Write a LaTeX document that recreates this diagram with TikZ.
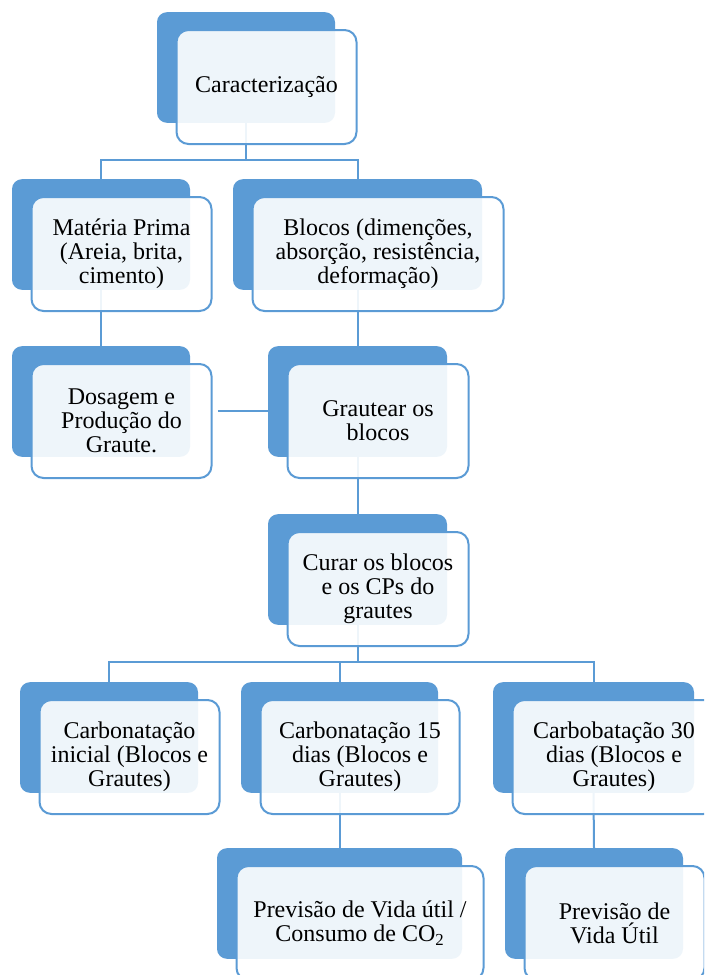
\documentclass[tikz,border=0pt]{standalone}
\usepackage{fontspec}
\setmainfont{Liberation Serif}
\usepackage{xcolor}
\usepackage{tikz}
\usetikzlibrary{positioning,calc}
\definecolor{stageblue}{RGB}{91,155,213}
\tikzset{
    stage back/.style={rectangle, rounded corners=7.5pt, fill=stageblue, minimum width=#1*0.75pt, minimum height=83pt, inner sep=0pt},
    stage front/.style={rectangle, rounded corners=9pt, draw=stageblue, line width=1.5pt, fill=white, fill opacity=0.9, text opacity=1, minimum width=(#1+2)*0.75pt, minimum height=85.5pt, inner sep=0pt, align=center, font=\fontsize{18}{18}\selectfont},
    link/.style={draw=stageblue, line width=1.5pt}
}

\begin{document}
\begin{tikzpicture}[x=0.75pt, y=-0.75pt]
    \useasboundingbox (0,0) rectangle (704,975);
    \clip (0,0) rectangle (704,975);

    % Back boxes - one per stage
    \node[stage back=178] (car-b) at (246,67.5) {};
    \node[stage back=178] (mat-b) at (101,234.5) {};
    \node[stage back=249] (blo-b) at (357.5,234.5) {};
    \node[stage back=178] (dos-b) at (101,401.5) {};
    \node[stage back=179] (gra-b) at (357.5,401.5) {};
    \node[stage back=179] (cur-b) at (357.5,569.5) {};
    \node[stage back=178] (ci-b) at (109,737.5) {};
    \node[stage back=197] (c15-b) at (339.5,737.5) {};
    \node[stage back=201] (c30-b) at (593.5,737.5) {};
    \node[stage back=245] (pco-b) at (339.5,903.5) {};
    \node[stage back=178] (pvu-b) at (594,903.5) {};

    % Connections - drawn under the front boxes
    \draw[link] (car-b.south) -- ++(0,37) -| (mat-b.north);
    \draw[link] (car-b.south) -- ++(0,37) -| (blo-b.north);
    \draw[link] (mat-b.south) -- (dos-b.north);
    \draw[link] (blo-b.south) -- (gra-b.north);
    \draw[link] (gra-b.south) -- (cur-b.north);
    \draw[link] (cur-b.south) -- ++(0,37) -| (ci-b.north);
    \draw[link] (cur-b.south) -- ++(0,37) -| (c15-b.north);
    \draw[link] (cur-b.south) -- ++(0,37) -| (c30-b.north);
    \draw[link] (c15-b.south) -- (pco-b.north);
    \draw[link] (c30-b.south) -- (pvu-b.north);

    % Front boxes with the texts
    \node[stage front=178] (car) at ($(car-b)+(20.5,19.5)$) {Caracterização};
    \node[stage front=178] (mat) at ($(mat-b)+(20.5,19.5)$) {Matéria Prima\\(Areia, brita,\\cimento)};
    \node[stage front=249] (blo) at ($(blo-b)+(20.5,19.5)$) {Blocos (dimenções,\\absorção, resistência,\\deformação)};
    \node[stage front=178] (dos) at ($(dos-b)+(20.5,19.5)$) {Dosagem e\\Produção do\\Graute.};
    \node[stage front=179] (gra) at ($(gra-b)+(20.5,19.5)$) {Grautear os\\blocos};
    \node[stage front=179] (cur) at ($(cur-b)+(20.5,19.5)$) {Curar os blocos\\e os CPs do\\grautes};
    \node[stage front=178] (ci) at ($(ci-b)+(20.5,19.5)$) {Carbonatação\\inicial (Blocos e\\Grautes)};
    \node[stage front=197] (c15) at ($(c15-b)+(20.5,19.5)$) {Carbonatação 15\\dias (Blocos e\\Grautes)};
    \node[stage front=201] (c30) at ($(c30-b)+(20.5,19.5)$) {Carbobatação 30\\dias (Blocos e\\Grautes)};
    \node[stage front=245] (pco) at ($(pco-b)+(20.5,19.5)$) {Previsão de Vida útil /\\Consumo de CO\textsubscript{2}};
    \node[stage front=178] (pvu) at ($(pvu-b)+(20.5,19.5)$) {Previsão de\\Vida Útil};

    % Side link between the two middle stages
    \draw[link] ([shift={(4pt,7.5pt)}]dos.east) coordinate (dos-r) -- (dos-r -| gra-b.west);
\end{tikzpicture}
\end{document}
